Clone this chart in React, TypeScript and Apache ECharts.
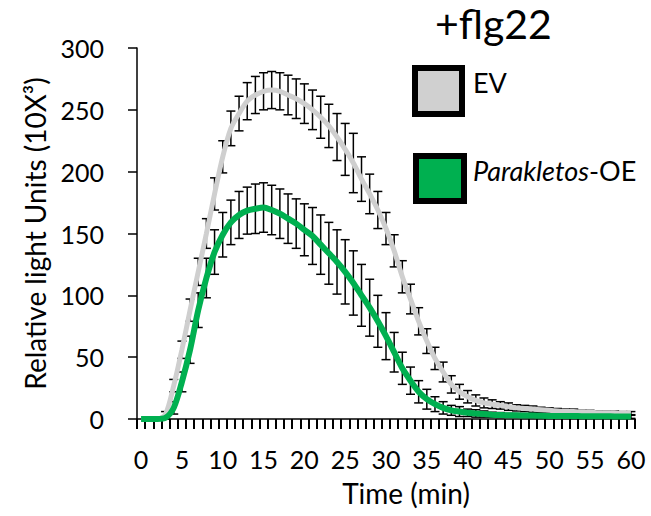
import React, { useEffect, useRef } from "react";
import * as echarts from "echarts";

const minutes = [
  "0", "1", "2", "3", "4", "5", "6", "7", "8", "9", "10",
  "11", "12", "13", "14", "15", "16", "17", "18", "19", "20",
  "21", "22", "23", "24", "25", "26", "27", "28", "29", "30",
  "31", "32", "33", "34", "35", "36", "37", "38", "39", "40",
  "41", "42", "43", "44", "45", "46", "47", "48", "49", "50",
  "51", "52", "53", "54", "55", "56", "57", "58", "59", "60",
];

// EV (grey)
const evMean = [
  0, 0, 0, 4, 27, 56, 88, 119, 150, 182, 212,
  235, 247, 257, 262, 265, 266, 265, 262, 259, 255,
  250, 244, 237, 228, 218, 207, 194, 182, 169, 154,
  136, 115, 97, 79, 63, 49, 38, 28, 22, 18,
  15, 13, 12, 11, 10, 9, 8.5, 8, 7.5, 7,
  6.5, 6, 6, 5.5, 5.5, 5, 5, 5, 4.5, 4.5,
];
const evErr = [
  0, 0, 0, 2, 5, 7, 9, 11, 12, 13, 13,
  14, 14, 15, 15, 15, 15, 15, 16, 16, 16,
  16, 17, 17.5, 19, 21, 24, 18, 16, 15, 13,
  13, 13, 12, 11, 10, 9, 8, 7, 6, 5,
  4.5, 4, 3.5, 3, 3, 2.5, 2.5, 2.5, 2, 2,
  2, 2, 2, 1.5, 1.5, 1.5, 1.5, 1.5, 1.5, 1.5,
];

// Parakletos-OE (green)
const oeMean = [
  0, 0, 0, 1, 9, 30, 56, 88, 114, 135, 149,
  159, 165, 168.5, 170, 171, 169, 166, 162, 158, 153,
  148, 141, 134, 127, 119, 110, 100, 90, 79, 67,
  54, 41, 31, 22, 16, 12, 9, 7, 6, 5,
  4.5, 4, 3.5, 3.2, 3, 3, 2.8, 2.8, 2.6, 2.5,
  2.5, 2.4, 2.4, 2.3, 2.3, 2.2, 2.2, 2.1, 2.1, 2,
];
const oeErr = [
  0, 0, 0, 1, 5, 8, 11, 14, 16, 18, 18,
  18, 19, 19, 20, 20, 20, 20, 20, 20, 21,
  23, 24, 25, 26, 26, 26, 25, 23, 21, 19,
  16, 13, 11, 9, 8, 6, 5, 4, 4, 3,
  3, 2.5, 2, 2, 1.5, 1.5, 1.5, 1.5, 1.5, 1.5,
  1.5, 1.5, 1.5, 1.5, 1.5, 1.5, 1.5, 1.5, 1.5, 1.5,
];

const FONT = "Lato, 'Open Sans', sans-serif";
const EV_COLOR = "#cfcfcf";
const OE_COLOR = "#00b050";

function errorBars(name: string, mean: number[], err: number[]) {
  return {
    type: "custom",
    name,
    silent: true,
    z: 1,
    encode: { x: 0, y: [1, 2] },
    data: mean.map((m, i) => [i, m - err[i], m + err[i], err[i]]),
    renderItem: (_params: any, api: any) => {
      if (api.value(3) <= 0) return { type: "group", children: [] };
      const x = api.value(0);
      const lo = api.coord([x, api.value(1)]);
      const hi = api.coord([x, api.value(2)]);
      const hw = 4.5;
      const style = { stroke: "#000", lineWidth: 1.5 };
      return {
        type: "group",
        children: [
          { type: "line", shape: { x1: lo[0], y1: lo[1], x2: hi[0], y2: hi[1] }, style },
          { type: "line", shape: { x1: hi[0] - hw, y1: hi[1], x2: hi[0] + hw, y2: hi[1] }, style },
          { type: "line", shape: { x1: lo[0] - hw, y1: lo[1], x2: lo[0] + hw, y2: lo[1] }, style },
        ],
      };
    },
  };
}

export default function App() {
  const ref = useRef<HTMLDivElement>(null);
  useEffect(() => {
    if (!ref.current) return;
    const chart = echarts.init(ref.current, undefined, { renderer: "svg" });
    chart.setOption({
      animation: false,
      backgroundColor: "#fff",
      grid: { left: 137, top: 48, width: 498, height: 371 },
      xAxis: {
        type: "category",
        data: minutes,
        boundaryGap: true,
        axisLine: { lineStyle: { color: "#000", width: 1.5 } },
        axisTick: { show: true, interval: 0, length: 10, lineStyle: { color: "#000", width: 2 } },
        axisLabel: { interval: 4, color: "#000", fontSize: 25, fontFamily: FONT, margin: 27 },
        name: "Time (min)",
        nameLocation: "middle",
        nameGap: 60,
        nameTextStyle: { fontSize: 28, color: "#000", fontFamily: FONT, padding: [0, 0, 0, 40] },
      },
      yAxis: {
        type: "value",
        min: 0,
        max: 300,
        interval: 50,
        axisLine: { show: true, lineStyle: { color: "#000", width: 1.5 } },
        axisTick: { show: true, length: 9, lineStyle: { color: "#000", width: 1.5 } },
        axisLabel: { color: "#000", fontSize: 25, fontFamily: FONT, margin: 33 },
        splitLine: { show: false },
        name: "Relative light Units (10X³)",
        nameLocation: "middle",
        nameGap: 88,
        nameTextStyle: { fontSize: 28, color: "#000", fontFamily: FONT },
      },
      series: [
        errorBars("EV error", evMean, evErr),
        errorBars("Parakletos-OE error", oeMean, oeErr),
        {
          type: "line",
          name: "EV",
          data: evMean,
          showSymbol: false,
          smooth: 0.3,
          z: 3,
          lineStyle: { color: EV_COLOR, width: 5 },
          itemStyle: { color: EV_COLOR },
        },
        {
          type: "line",
          name: "Parakletos-OE",
          data: oeMean,
          showSymbol: false,
          smooth: 0.3,
          z: 4,
          lineStyle: { color: OE_COLOR, width: 6 },
          itemStyle: { color: OE_COLOR },
        },
      ],
      graphic: [
        {
          type: "text",
          left: 435,
          top: 3,
          style: { text: "+flg22", font: `41px ${FONT}`, fill: "#000" },
        },
        {
          type: "rect",
          shape: { x: 415, y: 68, width: 47, height: 46 },
          style: { fill: "#d0d0d0", stroke: "#000", lineWidth: 6 },
        },
        {
          type: "text",
          x: 473,
          y: 82,
          style: { text: "EV", font: `27px ${FONT}`, fill: "#000", textVerticalAlign: "middle" },
        },
        {
          type: "rect",
          shape: { x: 416, y: 156, width: 48, height: 45 },
          style: { fill: OE_COLOR, stroke: "#000", lineWidth: 6 },
        },
        {
          type: "text",
          x: 473,
          y: 170,
          style: {
            text: "{i|Parakletos}{n|-OE}",
            fill: "#000",
            textVerticalAlign: "middle",
            font: `27px ${FONT}`,
            rich: {
              i: { fontStyle: "italic", fontSize: 27, fontFamily: FONT, fill: "#000" },
              n: { fontSize: 27, fontFamily: FONT, fill: "#000" },
            },
          },
        },
      ],
    });
    return () => chart.dispose();
  }, []);
  return (
    <div
      ref={ref}
      style={{ position: "fixed", left: 0, top: 0, width: 651, height: 516 }}
    />
  );
}
